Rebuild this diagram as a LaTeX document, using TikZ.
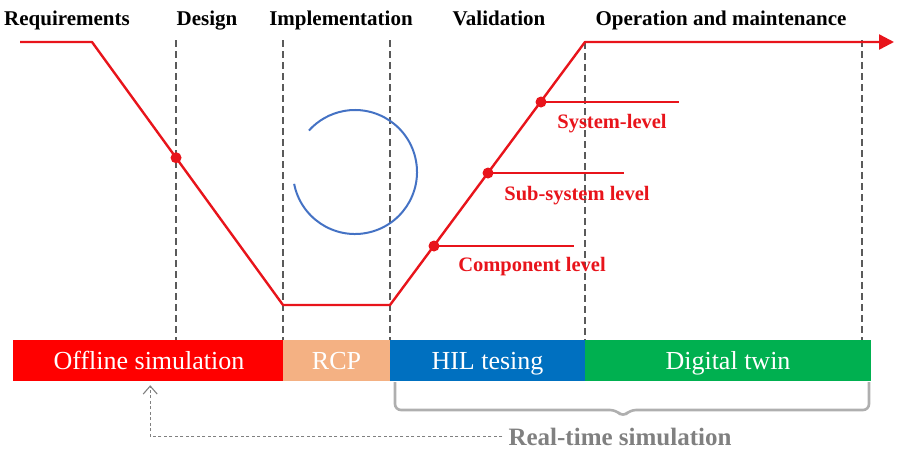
\documentclass[tikz,border=0pt]{standalone}
\usepackage{fontspec}
\setmainfont{Liberation Serif}
\usetikzlibrary{arrows.meta,calc}
\definecolor{flowred}{HTML}{E8141B}
\definecolor{offred}{HTML}{FF0000}
\definecolor{rcpsand}{HTML}{F4B183}
\definecolor{hilblue}{HTML}{0070C0}
\definecolor{twingreen}{HTML}{00B050}
\definecolor{loopblue}{HTML}{4472C4}
\definecolor{guide}{HTML}{5A5A5A}
\definecolor{bracegray}{HTML}{AFAFAF}
\definecolor{rtgray}{HTML}{808080}
\tikzset{
  phase/.style={font=\fontsize{21}{23}\selectfont\bfseries, text=black, inner sep=0pt, anchor=base},
  stage/.style={inner sep=0pt, minimum height=41pt, text=white, anchor=west,
                font=\fontsize{26}{28}\selectfont},
  stagetext/.style={inner sep=0pt, text=white, anchor=base, font=\fontsize{26}{28}\selectfont},
  levellabel/.style={font=\fontsize{20.5}{22}\selectfont\bfseries, text=flowred, inner sep=0pt, anchor=base},
  guideline/.style={guide, line width=1.1pt, dash pattern=on 7pt off 4pt},
  flow/.style={flowred, line width=2.4pt},
  dot/.style={circle, fill=flowred, inner sep=0pt, minimum size=11pt},
  levelline/.style={draw=flowred, line width=1.5pt}
}
\begin{document}
\begin{tikzpicture}[x=1pt,y=-1pt]
\useasboundingbox (0,0) rectangle (897,451);

% phase headings
\node[phase] (req)  at (67,25)  {Requirements};
\node[phase] (des)  at (207,25) {Design};
\node[phase] (imp)  at (341,25) {Implementation};
\node[phase] (val)  at (499,25) {Validation};
\node[phase] (ops)  at (721,25) {Operation and maintenance};

% stage bar
\node[stage, fill=offred,    minimum width=270pt] (off) at (13,360.5)  {};
\node[stage, fill=rcpsand,   minimum width=107pt] (rcp) at (283,360.5) {};
\node[stage, fill=hilblue,   minimum width=195pt] (hil) at (390,360.5) {};
\node[stage, fill=twingreen, minimum width=286pt] (dtw) at (585,360.5) {};
\node[stagetext] (offt) at (149,369) {Offline simulation};
\node[stagetext] (rcpt) at (336.5,369) {RCP};
\node[stagetext] (hilt) at (487.5,369) {HIL tesing};
\node[stagetext] (dtwt) at (728,369) {Digital twin};

% phase boundaries
\coordinate (g1) at (176,40);
\coordinate (g2) at (283,40);
\coordinate (g3) at (390,40);
\coordinate (g4) at (585,42);
\coordinate (g5) at (862,40);
\foreach \g in {g1,g2,g3,g4,g5}
  \draw[guideline] (\g) -- (\g |- off.north);

% development path
\coordinate (p0) at (20,42);
\coordinate (p1) at (92,42);
\coordinate (p2) at (283,305);
\coordinate (p3) at (390,305);
\coordinate (p4) at (585,42);
\coordinate (p5) at (894,42);
\draw[flow, line join=round, -{Triangle[length=15pt,width=15pt]}]
  (p0) -- (p1) -- (p2) -- (p3) -- (p4) -- (p5);

% design point on the falling branch
\node[dot] (d0) at ($(p1)!0.44!(p2)$) {};

% test levels on the rising branch
\node[dot] (d1) at (434,246) {};
\node[dot] (d2) at (488,173) {};
\node[dot] (d3) at (541,102) {};
\coordinate (e1) at (574,246);
\coordinate (e2) at (624,173);
\coordinate (e3) at (679,102);
\draw[levelline] (d1.center) -- (e1);
\draw[levelline] (d2.center) -- (e2);
\draw[levelline] (d3.center) -- (e3);
\node[levellabel] (l3) at (612,128) {System-level};
\node[levellabel] (l2) at (577,200) {Sub-system level};
\node[levellabel] (l1) at (532,271) {Component level};

% iteration loop
\draw[loopblue, line width=2pt] (355,172) ++(-191:62) arc[start angle=-191, end angle=-498, radius=62];

% real-time bracket
\coordinate (b0) at (395,382);
\coordinate (b1) at (869,382);
\draw[bracegray, line width=2.6pt, rounded corners=6pt]
  (b0) -- (395,410) -- (616,410) -- (623,417) -- (630,410) -- (869,410) -- (b1);
\node[font=\fontsize{25}{27}\selectfont\bfseries, text=rtgray, inner sep=0pt, anchor=base] (rt) at (620,445) {Real-time simulation};

% feedback to offline simulation
\draw[rtgray, line width=1.1pt, dash pattern=on 3pt off 2.5pt,
      -{Straight Barb[length=8pt,width=14pt]}, shorten >=4pt, shorten <=6pt]
  (rt.west) -| ([xshift=2pt]off.south);
\end{tikzpicture}
\end{document}
